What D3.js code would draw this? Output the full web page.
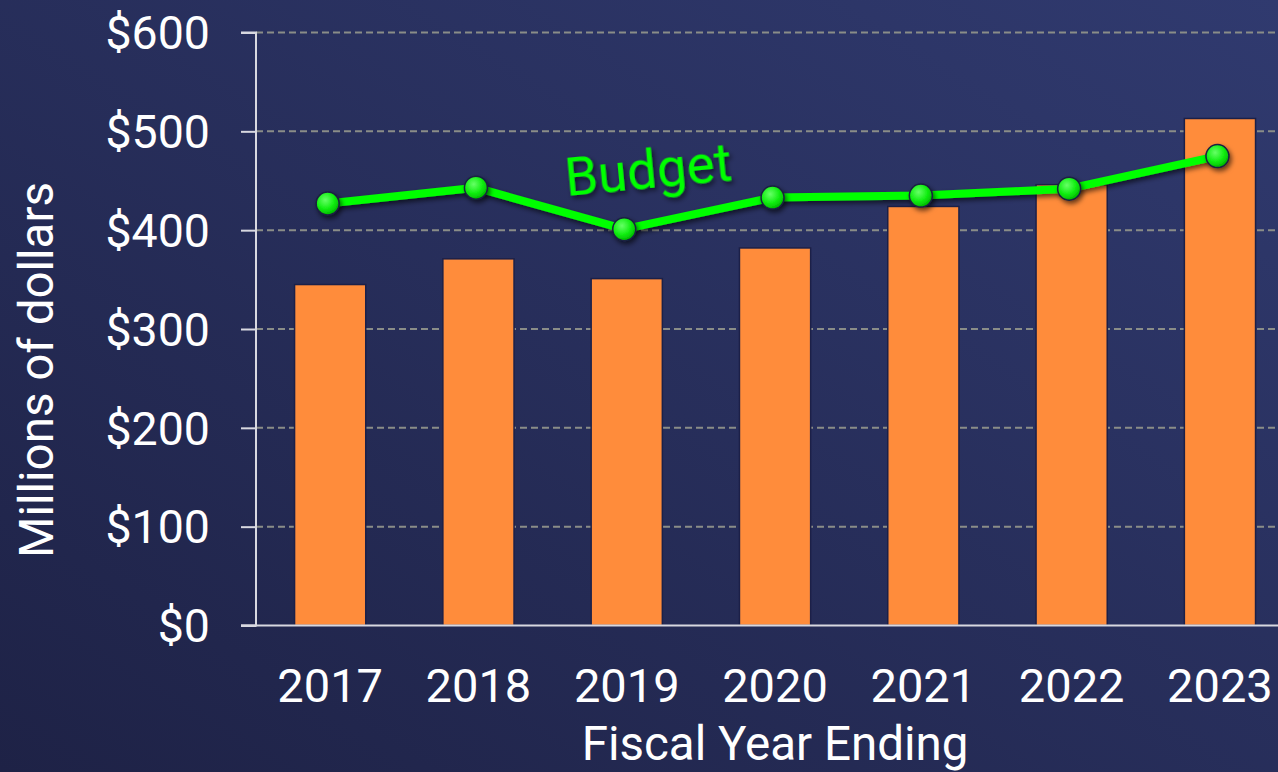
<!DOCTYPE html>
<html><head><meta charset="utf-8">
<script src="https://cdn.jsdelivr.net/npm/d3@7"></script>
<style>
html,body{margin:0;padding:0;overflow:hidden;background:#262c5a}
svg{display:block}
text{font-family:Roboto,"Noto Sans",sans-serif}
</style></head>
<body>
<svg id="chart" width="1278" height="772"></svg>
<script>
const years = ["2017","2018","2019","2020","2021","2022","2023"];
const actual = [345, 371, 351, 382, 424, 446, 513];
const budget = [427, 443, 401, 433, 435, 442, 475];
const yTicks = [0, 100, 200, 300, 400, 500, 600];

const W = 1278, H = 772;
const svg = d3.select("#chart");
const defs = svg.append("defs");

const bg = defs.append("linearGradient").attr("id","bg")
  .attr("x1","0").attr("y1","1").attr("x2","1").attr("y2","0");
bg.append("stop").attr("offset","0").attr("stop-color","#1e2246");
bg.append("stop").attr("offset","1").attr("stop-color","#303a6f");

const rg = defs.append("radialGradient").attr("id","dot")
  .attr("cx","0.4").attr("cy","0.35").attr("r","0.65");
rg.append("stop").attr("offset","0").attr("stop-color","#66ff66");
rg.append("stop").attr("offset","0.6").attr("stop-color","#11ee11");
rg.append("stop").attr("offset","1").attr("stop-color","#00b800");

const sh = defs.append("filter").attr("id","shadow")
  .attr("x","-50%").attr("y","-50%").attr("width","200%").attr("height","200%");
sh.append("feDropShadow").attr("dx",2).attr("dy",3).attr("stdDeviation",2.5)
  .attr("flood-color","#000").attr("flood-opacity",0.6);

svg.append("rect").attr("width",W).attr("height",H).attr("fill","url(#bg)");

const x0 = 256, yTop = 32.5, yBot = 625.5;
const x = d3.scaleBand().domain(years).range([x0, x0 + 7*148.3]).paddingInner(0.52).paddingOuter(0.26);
const y = d3.scaleLinear().domain([0,600]).range([yBot, yTop]);

// gridlines
svg.append("g").selectAll("line").data(yTicks.filter(d=>d>0)).join("line")
  .attr("x1", x0).attr("x2", W)
  .attr("y1", d=>y(d)).attr("y2", d=>y(d))
  .attr("stroke","#8a8d88").attr("stroke-width",2).attr("stroke-dasharray","7,4");

// bars
svg.append("g").selectAll("rect").data(years).join("rect")
  .attr("x", d=>x(d)).attr("width", x.bandwidth())
  .attr("y", (d,i)=>y(actual[i])).attr("height",(d,i)=>y(0)-y(actual[i]))
  .attr("fill","#ff8c3b").attr("stroke","#1c2048").attr("stroke-width",1.5);

// y axis
const yAxis = d3.axisLeft(y).tickValues(yTicks).tickFormat(d=>"$"+d).tickSize(15).tickPadding(31);
const gy = svg.append("g").attr("transform",`translate(${x0},0)`).call(yAxis);
gy.select(".domain").attr("stroke","#d8d8e0").attr("stroke-width",2).attr("d",`M-15,${yTop}H0V${yBot}H-15`);
gy.selectAll(".tick line").attr("stroke","#d8d8e0").attr("stroke-width",2);
gy.selectAll(".tick text").attr("fill","#ffffff").attr("font-size",46.5).attr("font-family","Roboto").attr("dy","0.35em");

// x axis baseline
svg.append("line").attr("x1",x0-15).attr("x2",W).attr("y1",yBot).attr("y2",yBot)
  .attr("stroke","#d8d8e0").attr("stroke-width",2);

// x labels
svg.append("g").selectAll("text").data(years).join("text")
  .attr("x", d=>x(d)+x.bandwidth()/2).attr("y", 702)
  .attr("text-anchor","middle").attr("fill","#fff").attr("font-size",47)
  .text(d=>d);

// axis titles
svg.append("text").attr("x",775).attr("y",760).attr("text-anchor","middle")
  .attr("fill","#fff").attr("font-size",47.5).text("Fiscal Year Ending");
svg.append("text").attr("transform","translate(53,370) rotate(-90)").attr("text-anchor","middle")
  .attr("fill","#fff").attr("font-size",47.5).text("Millions of dollars");

// budget line
const cx = d => x(d) + x.bandwidth()/2 - 2.5;
const line = d3.line().x((d,i)=>cx(years[i])).y(d=>y(d));
svg.append("path").datum(budget).attr("d", line)
  .attr("fill","none").attr("stroke","#00ff00").attr("stroke-width",8)
  .attr("stroke-linejoin","round").attr("filter","url(#shadow)");
svg.append("g").selectAll("circle").data(budget).join("circle")
  .attr("cx",(d,i)=>cx(years[i])).attr("cy",d=>y(d)).attr("r",11.5)
  .attr("fill","url(#dot)").attr("stroke","#1a2040").attr("stroke-width",1.5)
  .attr("filter","url(#shadow)");

svg.append("text").attr("transform","translate(650,188) rotate(-5.5)")
  .attr("text-anchor","middle").attr("fill","#00ff00").attr("font-size",53)
  .attr("filter","url(#shadow)").text("Budget");
</script>
</body></html>
